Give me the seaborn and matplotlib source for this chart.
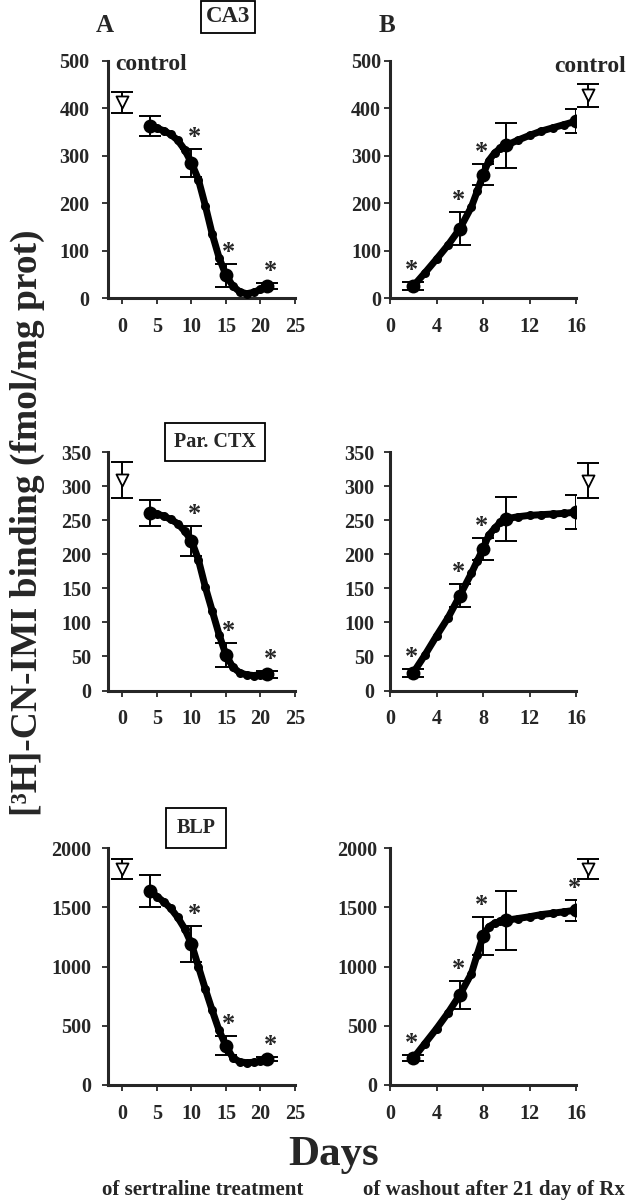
import matplotlib
matplotlib.use("Agg")
import matplotlib.pyplot as plt
import seaborn as sns

# ---------------- data ----------------
# Column A: days of sertraline treatment
a_pt_days = [4, 10, 15, 21]
a_curve_days = [4, 5, 6, 7, 8, 9, 10, 11, 12, 13, 14, 15, 16, 17, 18, 19, 20, 21]

ca3_a_pts = [362, 285, 48, 25]
ca3_a_sem = [21, 30, 24, 7]
ca3_a_curve = [362, 358, 353, 345, 333, 313, 285, 250, 195, 135, 85, 48, 25, 13, 9, 12, 18, 25]

ctx_a_pts = [260, 220, 52, 24]
ctx_a_sem = [19, 22, 17, 5]
ctx_a_curve = [260, 259, 256, 251, 245, 234, 220, 192, 152, 117, 82, 52, 34, 26, 23, 22, 23, 24]

blp_a_pts = [1638, 1190, 330, 219]
blp_a_sem = [135, 155, 80, 20]
blp_a_curve = [1638, 1590, 1545, 1490, 1415, 1320, 1190, 1000, 810, 630, 460, 330, 228, 196, 188, 192, 200, 219]

a_stars = [False, True, True, True]

# Column B: days of washout after 21 days of Rx
b_pt_days = [2, 6, 8, 10, 16]
b_curve_days = [2, 3, 4, 5, 6, 7, 7.5, 8, 8.5, 9, 9.5, 10, 11, 12, 13, 14, 15, 16]

ca3_b_pts = [25, 146, 260, 322, 373]
ca3_b_sem = [8, 35, 22, 47, 25]
ca3_b_curve = [25, 53, 82, 112, 146, 192, 225, 260, 290, 306, 316, 322, 333, 343, 352, 359, 366, 373]
ca3_b_stars = [True, True, True, False, False]

ctx_b_pts = [26, 139, 208, 252, 262]
ctx_b_sem = [6, 17, 16, 32, 25]
ctx_b_curve = [26, 52, 80, 107, 139, 172, 190, 208, 228, 238, 247, 252, 255, 257, 258, 259, 260, 262]
ctx_b_stars = [True, True, True, False, False]

blp_b_pts = [225, 760, 1255, 1390, 1476]
blp_b_sem = [25, 116, 160, 250, 88]
blp_b_curve = [225, 350, 475, 610, 760, 940, 1100, 1255, 1335, 1365, 1380, 1390, 1405, 1420, 1438, 1450, 1462, 1476]
blp_b_stars = [True, True, True, False, True]

# Controls
ctrl_a_day = 0
ctrl_b_day = 17
ca3_ctrl = [413, 22]
ctx_ctrl = [309, 26]
blp_ctrl = [1825, 85]
ca3_b_ctrl = [428, 24]
ctx_b_ctrl = [308, 26]
blp_b_ctrl = [1825, 85]

region_names = ["CA3", "Par. CTX", "BLP"]
a_xticks = [0, 5, 10, 15, 20, 25]
b_xticks = [0, 4, 8, 12, 16]
yticks_rows = [[0, 100, 200, 300, 400, 500],
               [0, 50, 100, 150, 200, 250, 300, 350],
               [0, 500, 1000, 1500, 2000]]

# ---------------- style ----------------
sns.set_style("ticks")
plt.rcParams['font.family'] = ['Liberation Serif', 'DejaVu Serif']
plt.rcParams['font.weight'] = 'bold'
plt.rcParams['axes.linewidth'] = 2.2

W, H = 628, 1200
fig = plt.figure(figsize=(W / 100, H / 100), dpi=100)


def fx(x):
    return x / W


def fy(y):
    return 1 - y / H


def make_ax(left, right, top, bottom):
    return fig.add_axes([fx(left), fy(bottom), (right - left) / W, (bottom - top) / H])


col_px = [(108, 295), (390, 576)]
row_px = [(61, 298), (452, 690.5), (848, 1085)]
ypads = [[9.5, 8, 8], [2.5, 7.5, 5]]
star_dx = [2, -1]

panels = [
    # row, col, curve_days, curve, pt_days, pts, sem, stars, ctrl_day, ctrl
    (0, 0, a_curve_days, ca3_a_curve, a_pt_days, ca3_a_pts, ca3_a_sem, a_stars, ctrl_a_day, ca3_ctrl),
    (1, 0, a_curve_days, ctx_a_curve, a_pt_days, ctx_a_pts, ctx_a_sem, a_stars, ctrl_a_day, ctx_ctrl),
    (2, 0, a_curve_days, blp_a_curve, a_pt_days, blp_a_pts, blp_a_sem, a_stars, ctrl_a_day, blp_ctrl),
    (0, 1, b_curve_days, ca3_b_curve, b_pt_days, ca3_b_pts, ca3_b_sem, ca3_b_stars, ctrl_b_day, ca3_b_ctrl),
    (1, 1, b_curve_days, ctx_b_curve, b_pt_days, ctx_b_pts, ctx_b_sem, ctx_b_stars, ctrl_b_day, ctx_b_ctrl),
    (2, 1, b_curve_days, blp_b_curve, b_pt_days, blp_b_pts, blp_b_sem, blp_b_stars, ctrl_b_day, blp_b_ctrl),
]

for (r, c, cd, cv, pd_, pv, ps, st, cday, ctrl) in panels:
    left, right = col_px[c]
    top, bottom = row_px[r]
    ax = make_ax(left, right, top, bottom)

    # smooth dotted curve
    sns.lineplot(x=cd, y=cv, ax=ax, color='black', lw=5, marker='o', markersize=6.5,
                 markeredgewidth=0, solid_capstyle='round', solid_joinstyle='round', zorder=3)
    # error bars
    ax.errorbar(pd_, pv, yerr=ps, fmt='none', ecolor='black', elinewidth=1.4,
                capsize=8, capthick=1.4, zorder=2)
    # measured points
    sns.scatterplot(x=pd_, y=pv, ax=ax, color='black', s=100, edgecolor='black', linewidth=0, zorder=4)
    # control
    eb2 = ax.errorbar([cday], [ctrl[0]], yerr=[ctrl[1]], fmt='none', ecolor='black', elinewidth=1.4,
                      capsize=8, capthick=1.4, zorder=2)
    for art in eb2.get_children():
        art.set_clip_on(False)
    sns.scatterplot(x=[cday], y=[ctrl[0]], ax=ax, marker='v', s=75, color='white',
                    edgecolor='black', linewidth=1.3, zorder=5)
    ax.collections[-1].set_clip_on(False)
    # significance stars
    for d, v, s, flag in zip(pd_, pv, ps, st):
        if flag:
            ax.annotate('*', xy=(d, v + s), xytext=(star_dx[c], 0), textcoords='offset points',
                        ha='center', va='bottom', fontsize=19, fontweight='bold', annotation_clip=False)

    yt = yticks_rows[r]
    ax.set_ylim(yt[0], yt[-1])
    ax.set_yticks(yt)
    if c == 0:
        ax.set_xlim(-2.1, 25)
        ax.set_xticks(a_xticks)
    else:
        ax.set_xlim(0, 16)
        ax.set_xticks(b_xticks)
    ax.set_xlabel('')
    ax.set_ylabel('')
    sns.despine(ax=ax)
    ax.tick_params(axis='x', direction='out', length=4, width=1.3, pad=9.5, labelsize=14.5)
    ax.tick_params(axis='y', direction='out', length=4, width=1.3, pad=ypads[c][r], labelsize=14.5)
    for lab in ax.get_xticklabels() + ax.get_yticklabels():
        lab.set_fontweight('bold')

# panel letters and region boxes
fig.text(fx(105), fy(25), 'A', ha='center', va='center', fontsize=18, fontweight='bold')
fig.text(fx(387), fy(26), 'B', ha='center', va='center', fontsize=18, fontweight='bold')
box_pos = [(228, 17, 16.5, 0.22), (215, 442, 14.5, 0.45), (196, 828, 14.5, 0.5)]
for name, (bx, by, fs, pad) in zip(region_names, box_pos):
    fig.text(fx(bx), fy(by), name, ha='center', va='center', fontsize=fs, fontweight='bold',
             bbox=dict(boxstyle='square,pad=%s' % pad, facecolor='white', edgecolor='black', lw=1.3))

fig.text(fx(151), fy(64), 'control', ha='center', va='center', fontsize=17, fontweight='bold')
fig.text(fx(590), fy(66), 'control', ha='center', va='center', fontsize=17, fontweight='bold')

fig.text(fx(27), fy(523), '[³H]-CN-IMI binding (fmol/mg prot)', rotation=90, ha='center', va='center',
         fontsize=27, fontweight='bold')
fig.text(fx(334), fy(1155), 'Days', ha='center', va='center', fontsize=31, fontweight='bold')
fig.text(fx(203), fy(1190), 'of sertraline treatment', ha='center', va='center', fontsize=15, fontweight='bold')
fig.text(fx(494), fy(1190), 'of washout after 21 day of Rx', ha='center', va='center', fontsize=15,
         fontweight='bold')

fig.savefig('out.png', dpi=100, facecolor='white')
